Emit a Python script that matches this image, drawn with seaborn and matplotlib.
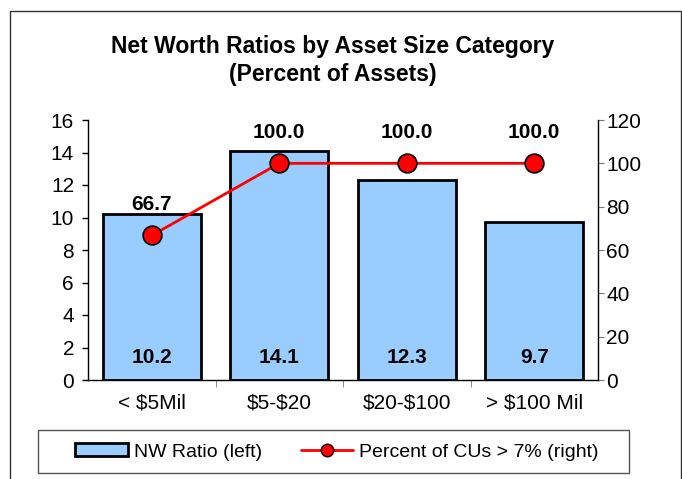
import matplotlib.pyplot as plt
from matplotlib.patches import Rectangle
from matplotlib.lines import Line2D
import numpy as np
import seaborn as sns

categories = ["< $5Mil", "$5-$20", "$20-$100", "> $100 Mil"]
nw_ratio = [10.2, 14.1, 12.3, 9.7]
pct_over_7 = [66.7, 100.0, 100.0, 100.0]

sns.set_style("white")
plt.rcParams["font.family"] = ["Liberation Sans", "DejaVu Sans"]
plt.rcParams["text.parse_math"] = False
plt.rcParams["text.color"] = "black"
plt.rcParams["xtick.color"] = "black"
plt.rcParams["ytick.color"] = "black"

W, H = 682, 479
fig = plt.figure(figsize=(W / 100, H / 100), dpi=100)
ax = fig.add_axes([88 / W, 1 - 380 / H, (598 - 88) / W, (380 - 120) / H])

# bars (left axis)
sns.barplot(x=categories, y=nw_ratio, color="#99CCFF", saturation=1,
            edgecolor="black", linewidth=2, width=0.77, ax=ax)
ax.set_xlim(-0.5, 3.5)
ax.set_ylim(0, 16)
ax.set_yticks(range(0, 17, 2))
ax.set_xlabel("")
ax.set_ylabel("")
ax.tick_params(axis="y", labelsize=15, length=4, width=1, direction="out", left=True, pad=6)
ax.tick_params(axis="x", which="major", labelsize=15, length=0, pad=10)
ax.set_xticks([0.5, 1.5, 2.5], minor=True)
ax.tick_params(axis="x", which="minor", length=5, color="#777777", direction="out", bottom=True)
for side in ["top", "right"]:
    ax.spines[side].set_visible(False)
for side in ["left", "bottom"]:
    ax.spines[side].set_color("black")
    ax.spines[side].set_linewidth(1)

for i, v in enumerate(nw_ratio):
    ax.text(i, 1.4, f"{v:.1f}", ha="center", va="center",
            fontsize=15, fontweight="bold")

# line (right axis)
ax2 = ax.twinx()
xpos = np.arange(len(categories))
ax2.plot(xpos, pct_over_7, color="red", linewidth=2, marker="o",
         markersize=13.5, markerfacecolor="red", markeredgecolor="black",
         markeredgewidth=1.2, zorder=5)
ax2.set_ylim(0, 120)
ax2.set_yticks(range(0, 121, 20))
ax2.tick_params(axis="y", labelsize=15, length=4, color="#777777", direction="out", right=True, pad=2)
for side in ["top", "left", "bottom"]:
    ax2.spines[side].set_visible(False)
ax2.spines["right"].set_color("black")
ax2.spines["right"].set_linewidth(1)

for i, v in enumerate(pct_over_7):
    ax2.annotate(f"{v:.1f}", (i, v), xytext=(0, 31), textcoords="offset pixels",
                 ha="center", va="center", fontsize=15, fontweight="bold")

# title
fig.text(333 / W, 1 - 53 / H, "Net Worth Ratios by Asset Size Category",
         ha="center", va="baseline", fontsize=16.5, fontweight="bold")
fig.text(333 / W, 1 - 81 / H, "(Percent of Assets)",
         ha="center", va="baseline", fontsize=16.5, fontweight="bold")

# legend with its own box
fig.patches.append(Rectangle((38 / W, 1 - 473 / H), (629 - 38) / W, (473 - 430) / H,
                             transform=fig.transFigure, fill=False,
                             edgecolor="#555555", linewidth=1))
handles = [
    Rectangle((0, 0), 1, 1, facecolor="#99CCFF", edgecolor="black", linewidth=2),
    Line2D([], [], color="red", linewidth=2, marker="o", markersize=9,
           markerfacecolor="red", markeredgecolor="black"),
]
fig.legend(handles, ["NW Ratio (left)", "Percent of CUs > 7% (right)"],
           loc="center", bbox_to_anchor=(337 / W, 1 - 452 / H), ncol=2,
           frameon=False, fontsize=14, handlelength=2.7, handleheight=0.6,
           handletextpad=0.3, columnspacing=2.0)

# outer chart border
fig.patches.append(Rectangle((10 / W, -0.01), (681 - 10) / W, 1 - 11 / H + 0.01,
                             transform=fig.transFigure, fill=False,
                             edgecolor="#333333", linewidth=1))

fig.savefig("out.png", dpi=100)
